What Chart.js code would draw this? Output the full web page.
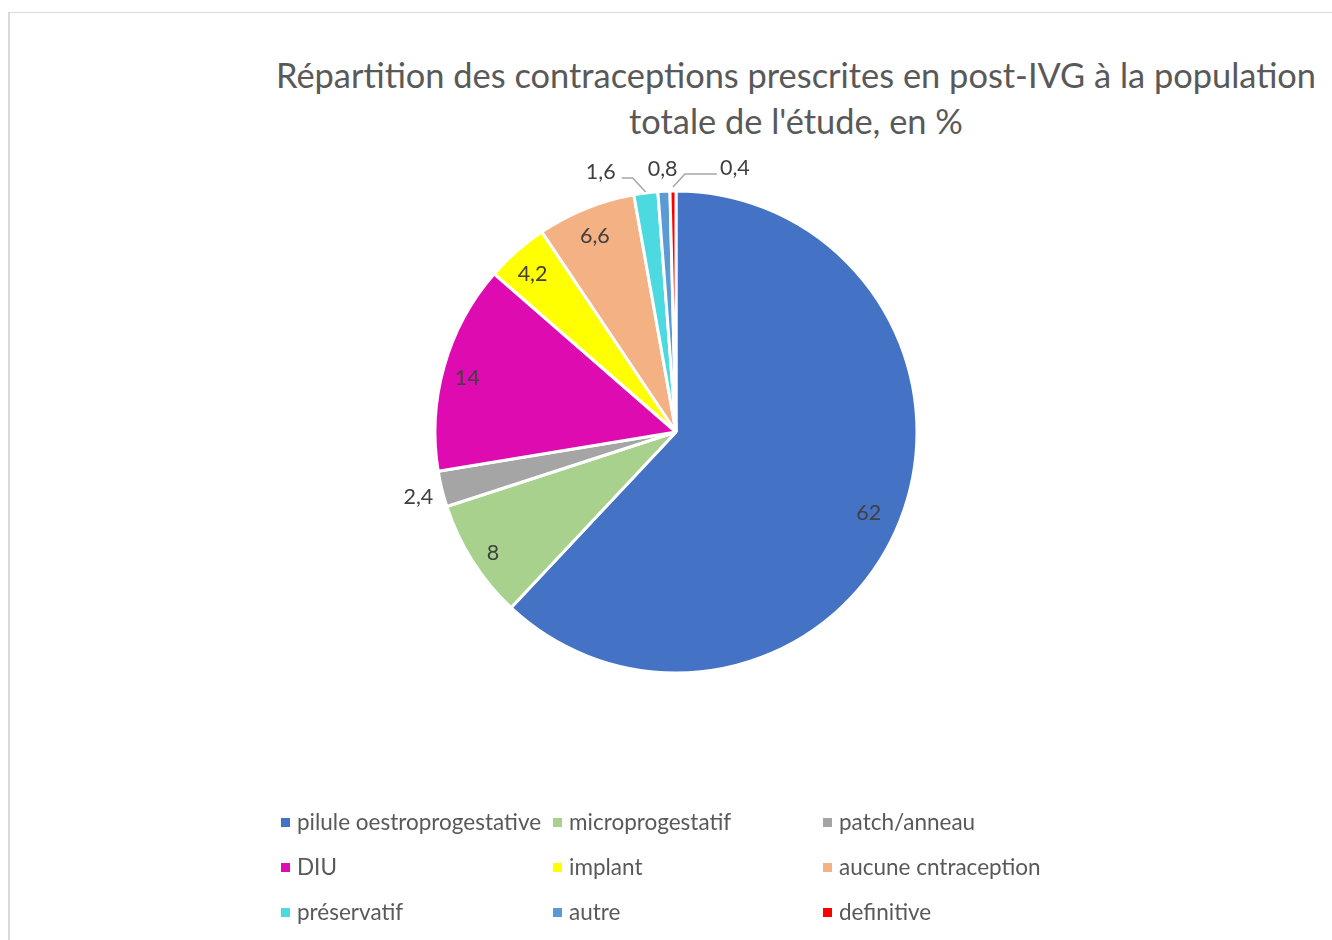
<!DOCTYPE html>
<html>
<head>
<meta charset="utf-8">
<script src="https://cdn.jsdelivr.net/npm/chart.js@4.4.1/dist/chart.umd.min.js"></script>
<style>
  html, body { margin: 0; padding: 0; width: 1332px; height: 940px; overflow: hidden; background: #fff; }
  body { position: relative; font-family: Lato, "Open Sans", sans-serif; }
  #frame { position: absolute; left: 8px; top: 12px; width: 1400px; height: 1000px;
           border-left: 2px solid #d9d9d9; border-top: 1px solid #d9d9d9; box-sizing: border-box; }
  #title { position: absolute; left: 260px; top: 52px; width: 1072px; text-align: center;
           font-size: 34.4px; line-height: 46px; color: #595959; }
  #wrap { position: absolute; left: 176px; top: 132px; width: 1000px; height: 600px; }
  #legend { position: absolute; left: 0; top: 0; width: 1332px; height: 940px; pointer-events: none; }
  .li { position: absolute; font-size: 22.5px; color: #595959; white-space: nowrap; line-height: 26px; }
  .li i { position: absolute; left: 0; top: 9px; width: 9px; height: 9px; }
  .li span { position: absolute; left: 16px; top: 0; }
</style>
</head>
<body>
<div id="frame"></div>
<div id="title"></div>
<div id="wrap"><canvas id="c" width="1000" height="600"></canvas></div>
<div id="legend"></div>
<script>
// ---- data ----
const titleLines = ["Répartition des contraceptions prescrites en post-IVG à la population", "totale de l'étude, en %"];
const categories = ["pilule oestroprogestative", "microprogestatif", "patch/anneau", "DIU", "implant", "aucune cntraception", "préservatif", "autre", "definitive"];
const values = [62, 8, 2.4, 14, 4.2, 6.6, 1.6, 0.8, 0.4];
const valueLabels = ["62", "8", "2,4", "14", "4,2", "6,6", "1,6", "0,8", "0,4"];
const colors = ["#4472C4", "#A9D18E", "#A5A5A5", "#DE0BB0", "#FFFF00", "#F4B183", "#4DD9E0", "#5B9BD5", "#FF0000"];

// ---- label placement styles: 'in' inside, 'out' radial outside, 'leadL'/'leadR' with leader line ----
const labelModes = ["in", "in", "out", "in", "in", "in", "leadL", "out", "leadR"];

document.getElementById('title').innerHTML = titleLines.map(t => '<div>' + t + '</div>').join('');

// legend: 3 columns grid
const legendCols = [281, 553, 823];
const legendRows = [809, 854, 899];
const lg = document.getElementById('legend');
categories.forEach((cat, i) => {
  const d = document.createElement('div');
  d.className = 'li';
  d.style.left = legendCols[i % 3] + 'px';
  d.style.top = legendRows[Math.floor(i / 3)] + 'px';
  d.innerHTML = '<i style="background:' + colors[i] + '"></i><span>' + cat + '</span>';
  lg.appendChild(d);
});

const labelPlugin = {
  id: 'pieLabels',
  afterDatasetsDraw(chart) {
    const ctx = chart.ctx;
    const meta = chart.getDatasetMeta(0);
    ctx.save();
    ctx.font = '21.5px Lato, "Open Sans", sans-serif';
    ctx.fillStyle = '#404040';
    ctx.textBaseline = 'middle';
    meta.data.forEach((arc, i) => {
      const p = arc.getProps(['x', 'y', 'startAngle', 'endAngle', 'outerRadius'], true);
      const mid = (p.startAngle + p.endAngle) / 2;
      const R = p.outerRadius;
      const mode = labelModes[i];
      const txt = valueLabels[i];
      if (mode === 'in' || mode === 'out') {
        const f = mode === 'in' ? (i === 0 ? 0.86 : 0.9) : 1.1;
        const dy = mode === 'in' ? 5 : 2;
        ctx.textAlign = 'center';
        ctx.fillText(txt, p.x + Math.cos(mid) * R * f, p.y + Math.sin(mid) * R * f + dy);
      } else {
        const ax = p.x + Math.cos(mid) * (R + 1);
        const ay = p.y + Math.sin(mid) * (R + 1);
        ctx.strokeStyle = '#A6A6A6';
        ctx.lineWidth = 1.5;
        ctx.beginPath();
        if (mode === 'leadL') {
          const ex = ax - 13, ey = ay - 14;
          ctx.moveTo(ax, ay); ctx.lineTo(ex, ey); ctx.lineTo(ex - 11, ey);
          ctx.stroke();
          ctx.textAlign = 'right';
          ctx.fillText(txt, ex - 17, ey - 6);
        } else {
          const ax2 = ax, ay2 = ay - 3;
          const ex = ax2 + 12, ey = ay2 - 13;
          ctx.moveTo(ax2, ay2); ctx.lineTo(ex, ey); ctx.lineTo(ex + 32, ey);
          ctx.stroke();
          ctx.textAlign = 'left';
          ctx.fillText(txt, ex + 35, ey - 6);
        }
      }
    });
    ctx.restore();
  }
};

new Chart(document.getElementById('c'), {
  type: 'pie',
  data: {
    labels: categories,
    datasets: [{
      data: values,
      backgroundColor: colors,
      borderColor: '#ffffff',
      borderWidth: 3,
      radius: 241
    }]
  },
  options: {
    responsive: false,
    animation: false,
    layout: { padding: 0 },
    plugins: {
      legend: { display: false },
      title: { display: false },
      tooltip: { enabled: false }
    }
  },
  plugins: [labelPlugin]
});
</script>
</body>
</html>
